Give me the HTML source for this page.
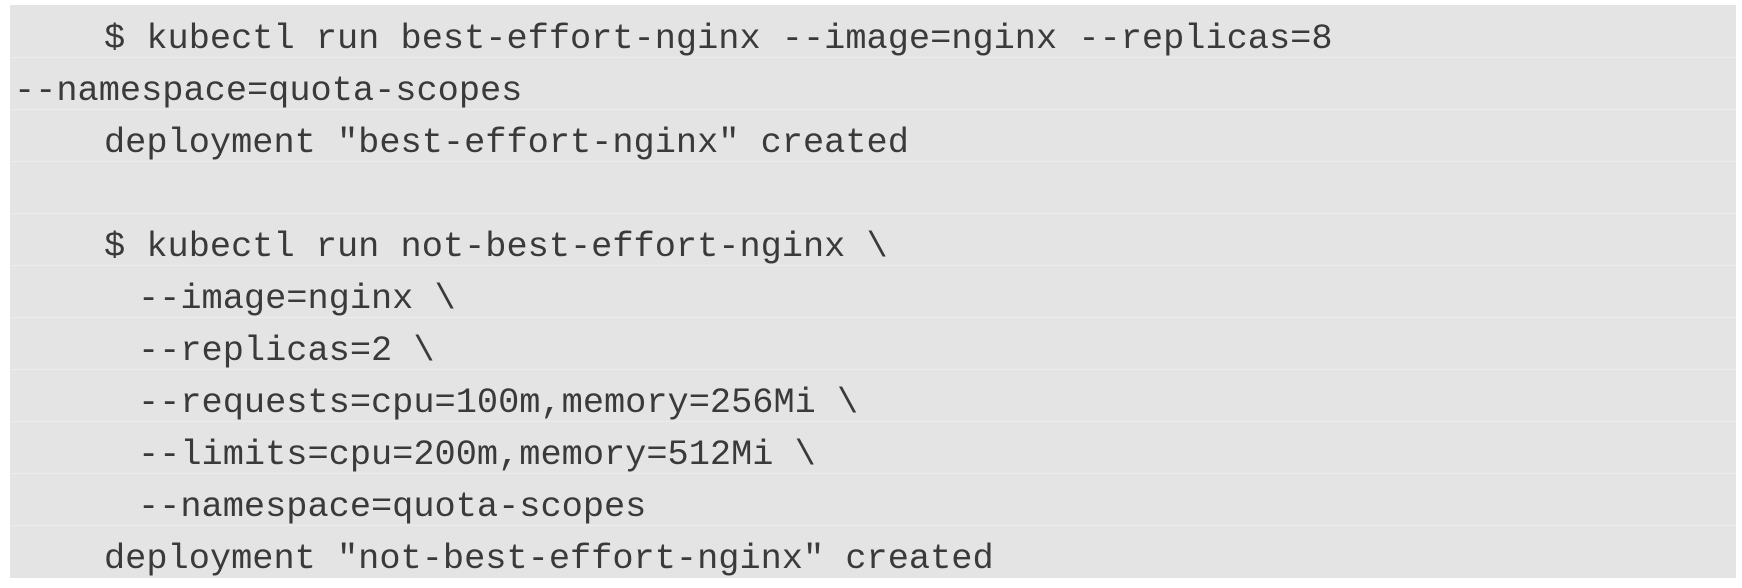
<!DOCTYPE html>
<html>
<head>
<meta charset="utf-8">
<style>
  html, body { margin:0; padding:0; background:#ffffff; }
  body { width:1742px; height:588px; position:relative; overflow:hidden; }
  .box { position:absolute; left:10px; top:5px; width:1726px; height:573px; background:#e4e4e4; }
  .sep { position:absolute; left:10px; width:1726px; height:1px; background:#ececec; }
  .ln { position:absolute; font-family:"Liberation Mono", monospace; font-size:35.3px; line-height:52.09px; color:#3a3a3a; white-space:pre; }
</style>
</head>
<body>
<div class="box"></div>
<div class="sep" style="top:57px"></div>
<div class="sep" style="top:109px"></div>
<div class="sep" style="top:161px"></div>
<div class="sep" style="top:213px"></div>
<div class="sep" style="top:265px"></div>
<div class="sep" style="top:317px"></div>
<div class="sep" style="top:369px"></div>
<div class="sep" style="top:421px"></div>
<div class="sep" style="top:473px"></div>
<div class="sep" style="top:525px"></div>

<div class="ln" style="left:104px; top:12.5px">$ kubectl run best-effort-nginx --image=nginx --replicas=8</div>
<div class="ln" style="left:14px; top:64.6px">--namespace=quota-scopes</div>
<div class="ln" style="left:104px; top:116.7px">deployment "best-effort-nginx" created</div>
<div class="ln" style="left:104px; top:220.9px">$ kubectl run not-best-effort-nginx \</div>
<div class="ln" style="left:138px; top:273.0px">--image=nginx \</div>
<div class="ln" style="left:138px; top:325.0px">--replicas=2 \</div>
<div class="ln" style="left:138px; top:377.1px">--requests=cpu=100m,memory=256Mi \</div>
<div class="ln" style="left:138px; top:429.2px">--limits=cpu=200m,memory=512Mi \</div>
<div class="ln" style="left:138px; top:481.3px">--namespace=quota-scopes</div>
<div class="ln" style="left:104px; top:533.4px">deployment "not-best-effort-nginx" created</div>
</body>
</html>
